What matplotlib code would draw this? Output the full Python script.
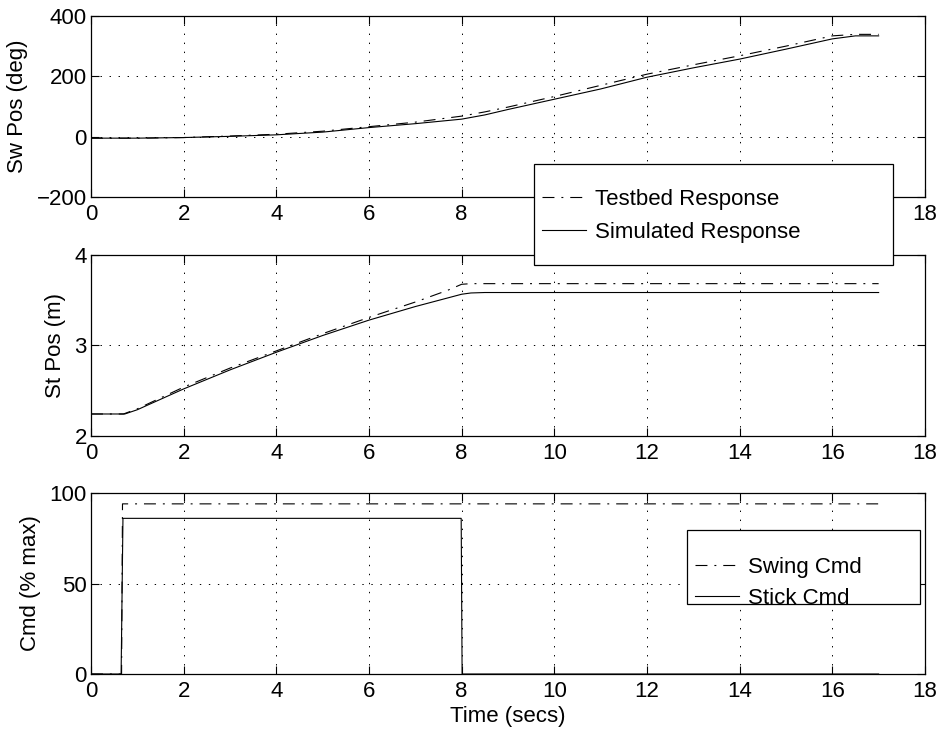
import numpy as np
import matplotlib
matplotlib.use("Agg")
import matplotlib.pyplot as plt
from matplotlib.patches import Rectangle

plt.rcParams['font.family'] = ['Liberation Sans', 'DejaVu Sans']
plt.rcParams['font.size'] = 16
plt.rcParams['lines.scale_dashes'] = False

# swing position (deg)
t_sw = [0, 1, 2, 3, 4, 5, 6, 7, 8, 8.5, 9, 10, 11, 12, 13, 14, 15, 16, 16.5, 17]
sw_sim = [-5, -5, -3, 1, 6, 15, 30, 43, 58, 72, 90, 124, 158, 197, 228, 257, 290, 324, 334, 334]
sw_test = [-5, -5, -3, 2, 8, 18, 33, 48, 68, 82, 98, 133, 170, 207, 238, 268, 300, 334, 339, 339]

# stick position (m)
t_st_sim = [0, 0.73, 1, 2, 3, 4, 5, 6, 7, 8, 8.2, 8.5, 17]
st_sim = [2.243, 2.243, 2.29, 2.52, 2.73, 2.925, 3.11, 3.28, 3.43, 3.566, 3.58, 3.585, 3.585]
t_st_test = [0, 0.7, 1, 2, 3, 4, 5, 6, 7, 7.7, 8, 8.2, 17]
st_test = [2.243, 2.243, 2.30, 2.54, 2.75, 2.94, 3.13, 3.31, 3.48, 3.61, 3.676, 3.683, 3.683]

# commands (% max)
t_swing = [0, 0.66, 0.68, 17]
swing_cmd = [0, 0, 94, 94]
t_stick = [0, 0.65, 0.69, 7.99, 8.01, 17]
stick_cmd = [0, 0, 86, 86, 0, 0]

dashdot = (0, (8.6, 5, 1.4, 5))
lw = 0.8
W, H = 940, 732

fig = plt.figure(figsize=(9.4, 7.32), dpi=100)
ax1 = fig.add_axes([0.0968, 0.7309, 0.8872, 0.2473])
ax2 = fig.add_axes([0.0968, 0.4044, 0.8872, 0.2473])
ax3 = fig.add_axes([0.0968, 0.0792, 0.8872, 0.2473])

l1, = ax1.plot(t_sw, sw_test, color='k', lw=lw, ls=dashdot)
l2, = ax1.plot(t_sw, sw_sim, color='k', lw=lw)
ax2.plot(t_st_test, st_test, color='k', lw=lw, ls=dashdot)
ax2.plot(t_st_sim, st_sim, color='k', lw=lw)
l3, = ax3.plot(t_swing, swing_cmd, color='k', lw=lw, ls=dashdot)
l4, = ax3.plot(t_stick, stick_cmd, color='k', lw=lw)

ax1.set_ylim(-200, 400)
ax1.set_yticks([-200, 0, 200, 400])
ax1.set_yticklabels(['\u2212200', '0', '200', '400'])
ax2.set_ylim(2, 4)
ax2.set_yticks([2, 3, 4])
ax3.set_ylim(0, 100)
ax3.set_yticks([0, 50, 100])

ax1.set_ylabel('Sw Pos (deg)', labelpad=6)
ax2.set_ylabel('St Pos (m)', labelpad=6)
ax3.set_ylabel('Cmd (% max)', labelpad=6)
ax3.set_xlabel('Time (secs)', labelpad=3)

for ax in (ax1, ax2, ax3):
    ax.set_xlim(0, 18)
    ax.set_xticks(range(0, 19, 2))
    ax.grid(True, color='k', lw=0.7, ls=(0, (1, 5.5)))
    ax.tick_params(direction='in', top=True, right=True, length=6, width=0.8, pad=3)
    ax.tick_params(axis='x', pad=5)
    for s in ax.spines.values():
        s.set_linewidth(0.9)

# legend boxes (pixel layout of the reference)
for x0, y0, x1, y1 in [(534, 164, 893, 265), (687, 530, 920, 604)]:
    fig.patches.append(Rectangle((x0 / W, 1 - y1 / H), (x1 - x0) / W, (y1 - y0) / H,
                                 transform=fig.transFigure, facecolor='white',
                                 edgecolor='k', lw=0.9, zorder=4))

fig.legend([l1, l2], ['Testbed Response', 'Simulated Response'],
           loc='upper left', bbox_to_anchor=(541.7 / W, 1 - 188.5 / H),
           frameon=False, borderpad=0, labelspacing=0.56, handlelength=2.0,
           handletextpad=0.4, borderaxespad=0).set_zorder(5)

fig.legend([l3, l4], ['Swing Cmd', 'Stick Cmd'],
           loc='upper left', bbox_to_anchor=(695 / W, 1 - 557 / H),
           frameon=False, borderpad=0, labelspacing=0.46, handlelength=2.0,
           handletextpad=0.4, borderaxespad=0).set_zorder(5)

fig.savefig('out.png', dpi=100)
